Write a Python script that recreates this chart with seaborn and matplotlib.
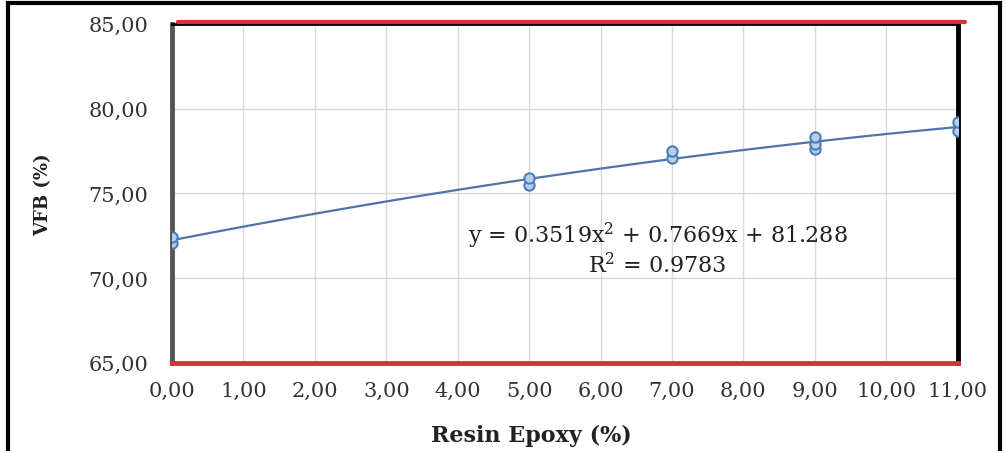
import matplotlib
matplotlib.use("Agg")
import matplotlib.pyplot as plt
import seaborn as sns
import pandas as pd
from matplotlib.lines import Line2D
from matplotlib.patches import Rectangle
from matplotlib.ticker import FuncFormatter, MultipleLocator

# Data
resin = [0, 0, 5, 5, 7, 7, 9, 9, 9, 11, 11]
vfb = [72.1, 72.4, 75.5, 75.9, 77.1, 77.5, 77.6, 77.9, 78.3, 78.7, 79.2]
equation_text = "y = 0.3519x$^{2}$ + 0.7669x + 81.288\nR$^{2}$ = 0.9783"
x_label = "Resin Epoxy (%)"
y_label = "VFB (%)"

df = pd.DataFrame({"resin": resin, "vfb": vfb})

sns.set_style("whitegrid")
plt.rcParams["font.family"] = ["DejaVu Serif"]
plt.rcParams["mathtext.fontset"] = "dejavuserif"

fig = plt.figure(figsize=(10.06, 4.52), dpi=100)
ax = fig.add_axes([0.171, 0.195, 0.781, 0.75])

sns.regplot(data=df, x="resin", y="vfb", order=2, ci=None, ax=ax,
            scatter_kws=dict(s=55, facecolor="#b9cde5", edgecolor="#4a7ebb",
                             linewidths=1.5, zorder=4, alpha=1),
            line_kws=dict(color="#4f74a8", lw=1.6, zorder=3))

ax.set_xlim(0, 11)
ax.set_ylim(65, 85)
ax.xaxis.set_major_locator(MultipleLocator(1))
ax.yaxis.set_major_locator(MultipleLocator(5))
fmt = FuncFormatter(lambda v, p: f"{v:.2f}".replace(".", ","))
ax.xaxis.set_major_formatter(fmt)
ax.yaxis.set_major_formatter(fmt)
ax.tick_params(axis="both", length=0, labelsize=15, colors="#333333")
ax.tick_params(axis="x", pad=13)
ax.tick_params(axis="y", pad=17)
ax.grid(True, color="#d9d9d9", lw=1)

ax.set_xlabel(x_label, fontsize=16, fontweight="bold", color="#222222")
ax.set_ylabel(y_label, fontsize=13, fontweight="bold", color="#222222")
ax.xaxis.set_label_coords(0.457, -0.18)
ax.yaxis.set_label_coords(-0.152, 0.5)

ax.spines["left"].set_color("#555555")
ax.spines["left"].set_linewidth(3.5)
ax.spines["right"].set_color("black")
ax.spines["right"].set_linewidth(3.5)
ax.spines["top"].set_color("black")
ax.spines["top"].set_linewidth(2)
ax.spines["bottom"].set_color("#d9303a")
ax.spines["bottom"].set_linewidth(3.5)
for s in ax.spines.values():
    s.set_visible(True)
    s.set_zorder(2)

ax.text(6.8, 71.75, equation_text, ha="center", va="center", fontsize=16,
        color="#222222", linespacing=1.1)

# red line just above the plot top
fig.add_artist(Line2D([0.177, 0.959], [0.949, 0.949], color="#d9303a", lw=3,
                      transform=fig.transFigure))
# outer black frame
fig.add_artist(Rectangle((0.008, -0.1), 0.986, 1.091, fill=False, lw=3,
                         edgecolor="black", transform=fig.transFigure))

fig.savefig("out.png", dpi=100)
